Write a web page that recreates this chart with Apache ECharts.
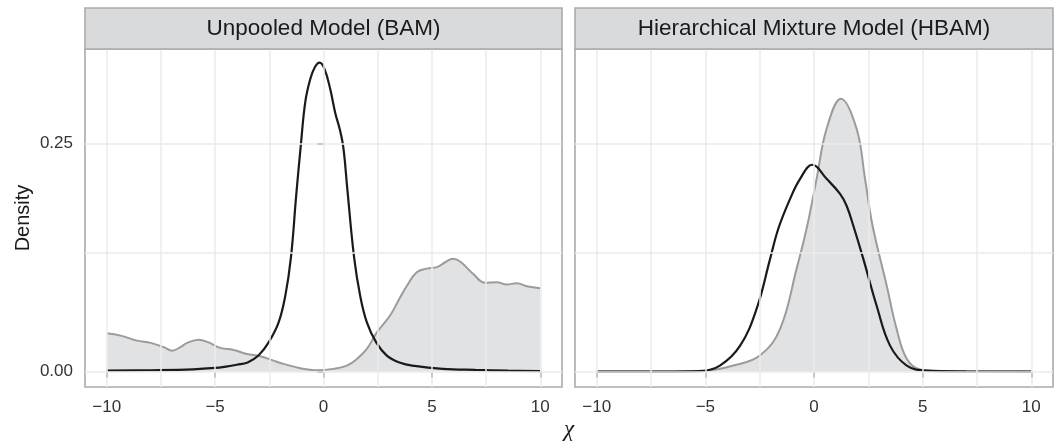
<!DOCTYPE html>
<html>
<head>
<meta charset="utf-8">
<script src="https://cdn.jsdelivr.net/npm/echarts@6/dist/echarts.min.js"></script>
<style>
html,body{margin:0;padding:0;background:#fff;}
#chart{width:1054px;height:443px;}
</style>
</head>
<body>
<div id="chart"></div>
<script>
// ---- data ----
const panelTitles = ['Unpooled Model (BAM)', 'Hierarchical Mixture Model (HBAM)'];
const xTickValues = [-10, -5, 0, 5, 10];
const xGridValues = [-10, -7.5, -5, -2.5, 0, 2.5, 5, 7.5, 10];
const yTickValues = [0, 0.25];
const yTickLabels = ['0.00', '0.25'];
const yGridValues = [0, 0.125, 0.25];

// Unpooled (BAM) – shaded grey density
const bamGreyX = [-10, -9.36, -8.6, -7.97, -7.36, -6.98, -6.6, -6.29, -5.76, -5.3, -4.76, -4.15, -3.53, -2.92, -2.3, -1.84, -1.07, -0.3, 0.46, 1.08, 1.5, 2.0, 2.46, 3.07, 3.5, 3.84, 4.3, 4.76, 5.23, 5.61, 5.96, 6.3, 6.91, 7.45, 7.99, 8.45, 8.91, 9.37, 10];
const bamGreyY = [0.042, 0.0395, 0.034, 0.0315, 0.0268, 0.023, 0.0268, 0.0315, 0.035, 0.032, 0.026, 0.0238, 0.0194, 0.0169, 0.012, 0.0085, 0.0037, 0.0015, 0.003, 0.0066, 0.013, 0.025, 0.043, 0.0615, 0.08, 0.094, 0.109, 0.113, 0.1146, 0.120, 0.1237, 0.1208, 0.107, 0.0974, 0.098, 0.0955, 0.097, 0.0937, 0.0915];
// Unpooled (BAM) – black density
const bamBlackX = [-10, -8, -6, -5, -4.5, -4, -3.5, -3, -2.53, -2.07, -1.76, -1.5, -1.26, -1.04, -0.84, -0.61, -0.4, -0.18, 0.05, 0.31, 0.55, 0.75, 0.92, 1.1, 1.41, 1.69, 2.0, 2.43, 2.92, 3.5, 4.2, 5.5, 7, 8.5, 10];
const bamBlackY = [0.001, 0.0015, 0.0025, 0.004, 0.0055, 0.0075, 0.010, 0.0176, 0.032, 0.054, 0.0834, 0.1256, 0.193, 0.25, 0.296, 0.321, 0.334, 0.339, 0.332, 0.31, 0.283, 0.266, 0.245, 0.2, 0.1256, 0.0834, 0.054, 0.032, 0.0176, 0.010, 0.0062, 0.003, 0.0018, 0.001, 0.0005];

// Hierarchical (HBAM) – shaded grey density
const hbamGreyX = [-10, -7, -4.94, -3.71, -2.49, -1.56, -0.8, -0.34, 0.12, 0.58, 1.24, 1.96, 2.35, 2.68, 3.35, 3.8, 4.27, 4.88, 6, 10];
const hbamGreyY = [0, 0, 0.0011, 0.0066, 0.0176, 0.047, 0.113, 0.157, 0.2115, 0.2665, 0.2995, 0.2665, 0.2115, 0.162, 0.094, 0.047, 0.014, 0.0022, 0.0002, 0];
// Hierarchical (HBAM) – black density
const hbamBlackX = [-10, -7, -5.25, -4.33, -3.4, -2.64, -2.02, -1.64, -1.1, -0.64, -0.08, 0.58, 1.2, 1.5, 1.81, 2.27, 2.88, 3.5, 4.27, 5.19, 7, 10];
const hbamBlackY = [0, 0, 0.0005, 0.0066, 0.0285, 0.069, 0.1237, 0.157, 0.1896, 0.2115, 0.227, 0.2115, 0.195, 0.182, 0.160, 0.1237, 0.0725, 0.0285, 0.0066, 0.001, 0.0002, 0];

// ---- chart ----
const pair = (xs, ys) => xs.map((x, i) => [x, ys[i]]);
const chart = echarts.init(document.getElementById('chart'), null, {renderer: 'canvas'});

const FONT = '"Liberation Sans", Arial, Helvetica, sans-serif';
const BORDER = '#ABABAB';
const grids = [
  {left: 85, top: 49, width: 477, height: 338},
  {left: 575, top: 49, width: 478, height: 338}
];

function xAxis(i) {
  return {
    type: 'value', gridIndex: i, min: -11, max: 11,
    axisLine: {show: false},
    splitLine: {show: false},
    axisTick: {show: true, customValues: xTickValues, length: 6, lineStyle: {color: '#333', width: 1.6}},
    axisLabel: {show: true, customValues: xTickValues, margin: 12, color: '#333', fontSize: 17, fontFamily: FONT,
      formatter: v => (v < 0 ? '\u2212' + Math.abs(v) : String(v))}
  };
}
function yAxis(i) {
  return {
    type: 'value', gridIndex: i, min: -0.0169, max: 0.354,
    axisLine: {show: false},
    splitLine: {show: false},
    axisTick: {show: i === 0, customValues: yTickValues, length: 6, lineStyle: {color: '#333', width: 1.6}},
    axisLabel: {show: i === 0, customValues: yTickValues, margin: 12, color: '#333', fontSize: 17, fontFamily: FONT,
      formatter: v => yTickLabels[yTickValues.findIndex(t => Math.abs(t - v) < 1e-9)] ?? ''}
  };
}
function gridSeries(i) {
  return {
    type: 'line', xAxisIndex: i, yAxisIndex: i, data: [], z: 1, silent: true,
    markLine: {
      silent: true, symbol: 'none', animation: false,
      label: {show: false},
      lineStyle: {color: '#EBEBEB', width: 1.5, type: 'solid'},
      emphasis: {disabled: true},
      data: xGridValues.map(v => ({xAxis: v})).concat(yGridValues.map(v => ({yAxis: v})))
    }
  };
}
function greySeries(i, data) {
  return {
    type: 'line', xAxisIndex: i, yAxisIndex: i, data, z: 3, smooth: 0.4, symbol: 'none',
    lineStyle: {color: '#9B9B9B', width: 2},
    areaStyle: {color: '#E1E2E4', opacity: 1},
    silent: true
  };
}
function blackSeries(i, data) {
  return {
    type: 'line', xAxisIndex: i, yAxisIndex: i, data, z: 4, smooth: 0.4, symbol: 'none',
    lineStyle: {color: '#1A1A1A', width: 2.2},
    silent: true
  };
}

const graphics = [];
grids.forEach((g, i) => {
  graphics.push({
    type: 'rect', shape: {x: g.left, y: 8, width: g.width, height: 41},
    style: {fill: '#D9DADC', stroke: BORDER, lineWidth: 1.6}, z: 10
  });
  graphics.push({
    type: 'text', x: g.left + g.width / 2, y: 29,
    style: {text: panelTitles[i], font: '22.5px ' + FONT, fill: '#1A1A1A', textAlign: 'center', textVerticalAlign: 'middle'}, z: 11
  });
});
graphics.push({
  type: 'text', x: 23, y: 218, rotation: Math.PI / 2,
  style: {text: 'Density', font: '20px ' + FONT, fill: '#1A1A1A', textAlign: 'center', textVerticalAlign: 'middle'}
});
graphics.push({
  type: 'text', x: 569, y: 430,
  style: {text: '\u03C7', font: 'italic 23px "Liberation Serif", "DejaVu Serif", serif', fill: '#1A1A1A', textAlign: 'center', textVerticalAlign: 'middle'}
});

chart.setOption({
  animation: false,
  backgroundColor: '#ffffff',
  grid: grids.map(g => Object.assign({show: true, borderColor: BORDER, borderWidth: 1.6, backgroundColor: 'transparent', containLabel: false}, g)),
  xAxis: [xAxis(0), xAxis(1)],
  yAxis: [yAxis(0), yAxis(1)],
  graphic: graphics,
  series: [
    gridSeries(0), gridSeries(1),
    greySeries(0, pair(bamGreyX, bamGreyY)),
    blackSeries(0, pair(bamBlackX, bamBlackY)),
    greySeries(1, pair(hbamGreyX, hbamGreyY)),
    blackSeries(1, pair(hbamBlackX, hbamBlackY))
  ]
});
</script>
</body>
</html>
